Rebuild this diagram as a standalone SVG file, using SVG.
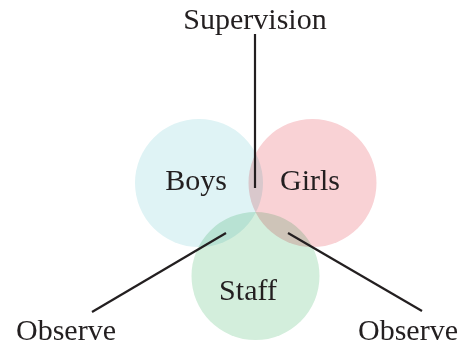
<svg xmlns="http://www.w3.org/2000/svg" width="466" height="345" viewBox="0 0 466 345">
<style>
.c{mix-blend-mode:multiply}
.t{font-family:"Liberation Serif","Times New Roman",serif;font-size:30px;fill:#231f20;text-anchor:middle}
.l{stroke:#231f20;stroke-width:2.2;fill:none}
</style>
<rect width="466" height="345" fill="#ffffff"/>
<g id="boys"><circle class="c" cx="199" cy="183" r="64" fill="#dff3f5"/></g>
<g id="girls"><circle class="c" cx="312.5" cy="183" r="64" fill="#f9d2d5"/></g>
<g id="staff"><circle class="c" cx="255.5" cy="276" r="64" fill="#d3eedc"/></g>
<g id="connectors">
<line class="l" x1="255" y1="34" x2="255" y2="188"/>
<line class="l" x1="226" y1="233" x2="92" y2="312"/>
<line class="l" x1="288" y1="233" x2="422" y2="311"/>
</g>
<g id="labels">
<text class="t" x="255" y="29">Supervision</text>
<text class="t" x="196" y="190">Boys</text>
<text class="t" x="310" y="190">Girls</text>
<text class="t" x="248" y="300">Staff</text>
<text class="t" x="66" y="340">Observe</text>
<text class="t" x="408" y="340">Observe</text>
</g>
</svg>
